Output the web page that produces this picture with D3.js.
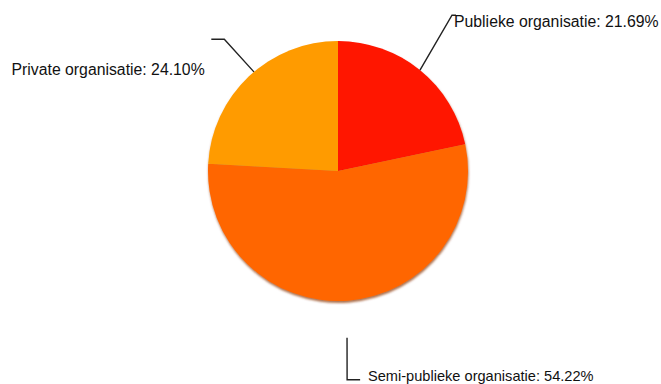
<!DOCTYPE html>
<html>
<meta charset="utf-8">
<style>
body {
  margin: 0;
  background: #fff;
}
.label {
  font-family: "Liberation Sans", Arial, sans-serif;
  fill: #111;
}
.leader {
  fill: none;
  stroke: #222;
  stroke-width: 1.4;
}
</style>
<body>
<script src="https://d3js.org/d3.v7.min.js"></script>
<script>
// data
var categories = ["Publieke organisatie", "Semi-publieke organisatie", "Private organisatie"];
var values = [21.69, 54.22, 24.10];
var colors = ["#ff1300", "#ff6600", "#ff9b00"];

// label layout: leader start (angle in deg, radius), elbow (angle, radius), tail length, text pos
var labelLayout = [
  {a0: 39.1, r0: 130, a1: 36.2, r1: 193, tail: 4, tx: 454, ty: 27, size: 15.8},
  {a0: 176.9, r0: 167, a1: 177.5, r1: 209, tail: 13, tx: 368, ty: 381, size: 14.6},
  {a0: 319.7, r0: 130, a1: 319.2, r1: 174, tail: -13, tx: 11.5, ty: 75, size: 15.8}
];

var width = 661, height = 384,
    cx = 338, cy = 171, radius = 130;

var svg = d3.select("body").append("svg")
    .attr("width", width)
    .attr("height", height);

// soft shadow under the pie
var filter = svg.append("defs").append("filter")
    .attr("id", "shadow")
    .attr("x", "-10%").attr("y", "-10%")
    .attr("width", "120%").attr("height", "120%");
filter.append("feDropShadow")
    .attr("dx", 0.5)
    .attr("dy", 2)
    .attr("stdDeviation", 1.2)
    .attr("flood-color", "#8a3000")
    .attr("flood-opacity", 0.7);

var pie = d3.pie().sort(null).value(function(d) { return d; });
var arc = d3.arc().innerRadius(0).outerRadius(radius);

var g = svg.append("g")
    .attr("transform", "translate(" + cx + "," + cy + ")");

g.append("g")
    .attr("filter", "url(#shadow)")
  .selectAll("path")
    .data(pie(values))
  .enter().append("path")
    .attr("d", arc)
    .style("fill", function(d, i) { return colors[i]; });

function polar(angle, r) {
  var t = angle * Math.PI / 180;
  return [r * Math.sin(t), -r * Math.cos(t)];
}

// leader lines and labels
categories.forEach(function(c, i) {
  var L = labelLayout[i];
  var p0 = polar(L.a0, L.r0),
      p1 = polar(L.a1, L.r1),
      p2 = [p1[0] + L.tail, p1[1]];
  g.append("path")
      .attr("class", "leader")
      .attr("d", d3.line()([p0, p1, p2]));
  svg.append("text")
      .attr("class", "label")
      .attr("x", L.tx)
      .attr("y", L.ty)
      .style("font-size", L.size + "px")
      .text(c + ": " + values[i].toFixed(2) + "%");
});
</script>
</body>
</html>
